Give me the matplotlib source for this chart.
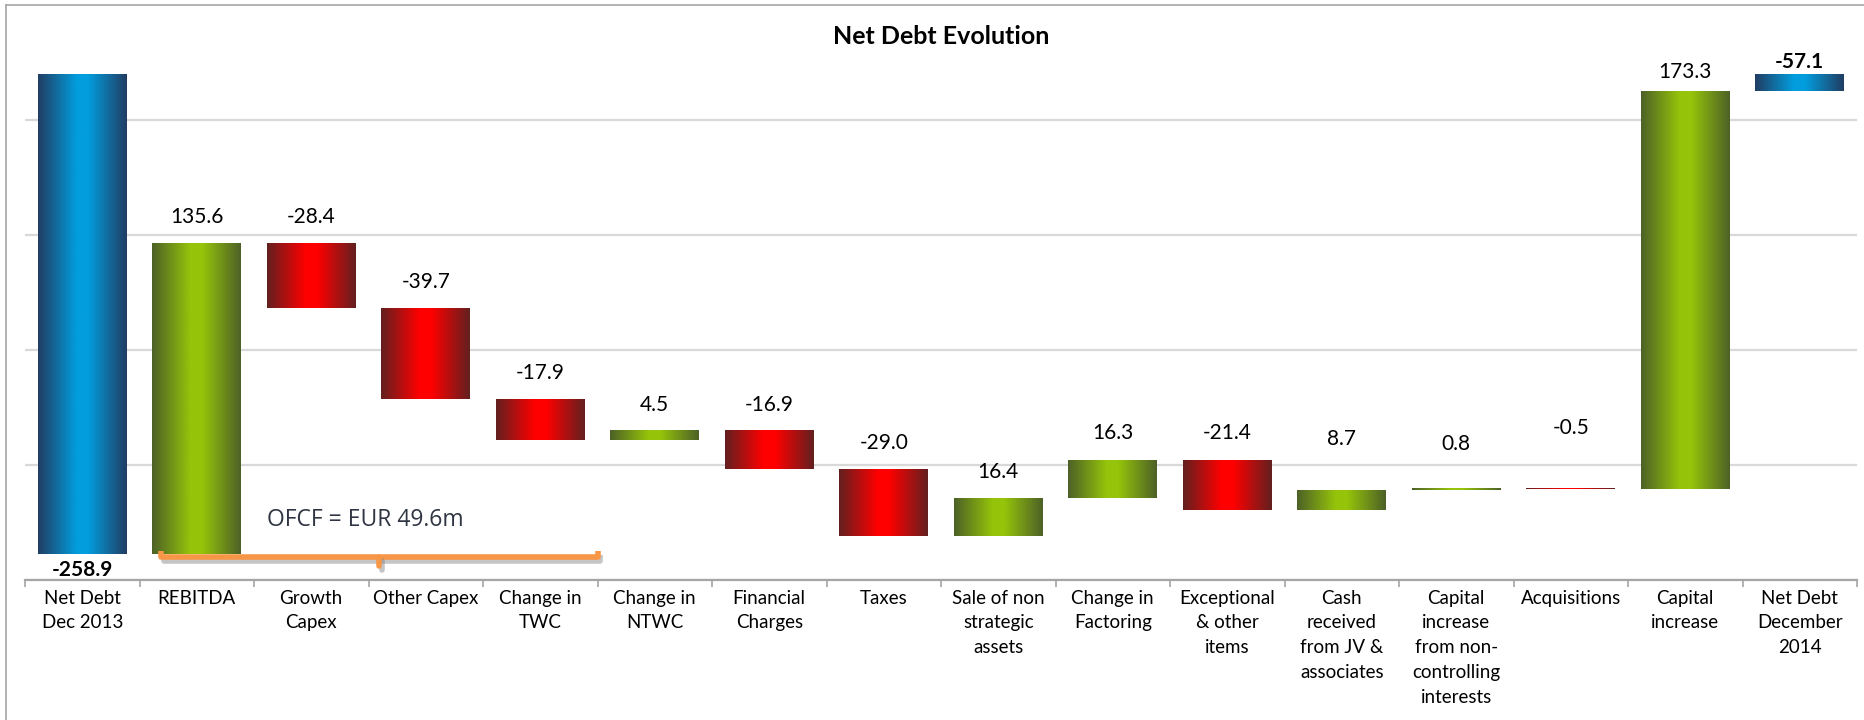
import numpy as np
import matplotlib
matplotlib.use("Agg")
import matplotlib.pyplot as plt
from matplotlib.colors import to_rgb
from matplotlib.lines import Line2D
import matplotlib.patheffects as pe

# ---- data -------------------------------------------------------------
categories = [
    "Net Debt\nDec 2013", "REBITDA", "Growth\nCapex", "Other Capex",
    "Change in\nTWC", "Change in\nNTWC", "Financial\nCharges", "Taxes",
    "Sale of non\nstrategic\nassets", "Change in\nFactoring",
    "Exceptional\n& other\nitems", "Cash\nreceived\nfrom JV &\nassociates",
    "Capital\nincrease\nfrom non-\ncontrolling\ninterests", "Acquisitions",
    "Capital\nincrease", "Net Debt\nDecember\n2014",
]
opening_net_debt = -258.9
changes = [135.6, -28.4, -39.7, -17.9, 4.5, -16.9, -29.0,
           16.4, 16.3, -21.4, 8.7, 0.8, -0.5, 173.3]
closing_net_debt = -57.1
axis_crossing = -50.0          # totals are drawn from the category-axis crossing
ofcf_items = 4                 # REBITDA .. Change in TWC make up operating FCF

# ---- layout ---------------------------------------------------------------
W, H, DPI = 1864, 720, 100
y_min, y_max = -270, -22
# pixel offset of each value label from the bar end (negative = below the bar)
label_offsets_px = [-16, 26, 26, 26, 26, 25, 25, 26, 26, 27, 27, 51, 44, 60, 19, 12]

gradients = {
    "total": ("#213D63", "#029DDD"),
    "up": ("#4D6127", "#95C40A"),
    "down": ("#62201F", "#FF0000"),
}

plt.rcParams["font.family"] = ["Lato", "DejaVu Sans"]

fig = plt.figure(figsize=(W / DPI, H / DPI), dpi=DPI)
ax = fig.add_axes([25 / W, (H - 580) / H, (1857 - 25) / W, (580 - 10) / H])

n = len(categories)
bar_w = 0.777

# running level of the waterfall
bottoms, heights, kinds = [], [], []
bottoms.append(min(opening_net_debt, axis_crossing))
heights.append(abs(axis_crossing - opening_net_debt))
kinds.append("total")
level = opening_net_debt
for c in changes:
    new = level + c
    bottoms.append(min(level, new))
    heights.append(abs(c))
    kinds.append("up" if c > 0 else "down")
    level = new
bottoms.append(min(closing_net_debt, axis_crossing))
heights.append(abs(axis_crossing - closing_net_debt))
kinds.append("total")

values = [opening_net_debt] + changes + [closing_net_debt]

x = np.arange(n)
bars = ax.bar(x, heights, bottom=bottoms, width=bar_w, color="none",
              edgecolor="none", zorder=2)


def gradient_image(edge, centre, steps=256):
    t = np.linspace(0, 1, steps)
    w = 1 - np.abs(2 * t - 1)
    w = np.clip(w * 1.15, 0, 1)
    e = np.array(to_rgb(edge))
    c = np.array(to_rgb(centre))
    row = e[None, :] * (1 - w[:, None]) + c[None, :] * w[:, None]
    return row[None, :, :]


for b, kind in zip(bars, kinds):
    x0, y0 = b.get_x(), b.get_y()
    img = ax.imshow(gradient_image(*gradients[kind]),
                    extent=[x0, x0 + b.get_width(), y0, y0 + b.get_height()],
                    aspect="auto", interpolation="bilinear", zorder=2)
    img.set_clip_path(b)

# value labels
for i, (b, v, off) in enumerate(zip(bars, values, label_offsets_px)):
    bold = i in (0, n - 1)
    ypos = b.get_y() if off < 0 else b.get_y() + b.get_height()
    ax.annotate(f"{v:.1f}", (b.get_x() + b.get_width() / 2, ypos),
                xytext=(0, off), textcoords="offset pixels",
                ha="center", va="center", fontsize=15,
                fontweight="bold" if bold else "normal", color="black",
                zorder=5)

# OFCF bracket
ofcf = sum(changes[:ofcf_items])
bx0, bx1 = 0.69, 4.5
by = opening_net_debt - 1.1
bracket_x = [bx0, bx0, bx1, bx1]
bracket_y = [by + 2.6, by, by, by + 2.6]
shadow = [pe.SimpleLineShadow(offset=(2, -3), shadow_color="#7F7F7F", alpha=0.45),
          pe.Normal()]
ax.plot(bracket_x, bracket_y, color="#F79646", lw=4.0, solid_joinstyle="round",
        solid_capstyle="butt", zorder=4, path_effects=shadow, clip_on=False)
bm = (bx0 + bx1) / 2
ax.plot([bm, bm], [by, by - 4.0], color="#F79646", lw=4.0,
        solid_capstyle="round", zorder=4, path_effects=shadow, clip_on=False)
ax.text(2.47, -243.9, f"OFCF = EUR {ofcf:.1f}m", ha="center", va="center",
        fontsize=16.5, family=["Open Sans", "DejaVu Sans"], color="#2F3542",
        zorder=5)

# axes styling
ax.set_xlim(-0.5, n - 0.5)
ax.set_ylim(y_min, y_max)
ax.set_yticks(np.arange(y_min, y_max, 50))
ax.yaxis.grid(True, color="#D9D9D9", lw=1.6, zorder=0)
ax.set_axisbelow(True)
ax.tick_params(axis="y", left=False, labelleft=False)
ax.set_xticks(x)
ax.set_xticklabels(categories, fontsize=13.5, linespacing=1.55)
ax.tick_params(axis="x", length=0, pad=7)
ax.set_xticks(np.arange(-0.5, n, 1.0), minor=True)
ax.tick_params(axis="x", which="minor", length=5, width=1.2, color="#A6A6A6",
               direction="out")
for side in ("left", "right", "top"):
    ax.spines[side].set_visible(False)
ax.spines["bottom"].set_color("#A6A6A6")
ax.spines["bottom"].set_linewidth(1.6)

# title
fig.text(941 / W, 1 - 37 / H, "Net Debt Evolution", ha="center", va="center",
         fontsize=18, fontweight="bold", color="black")

# chart border (left and top edges visible)
fig.add_artist(Line2D([6 / W, 6 / W], [0, 1 - 5 / H], color="#A6A6A6", lw=1.2))
fig.add_artist(Line2D([6 / W, 1], [1 - 5 / H, 1 - 5 / H], color="#A6A6A6", lw=1.2))

fig.savefig("out.png", dpi=DPI)
